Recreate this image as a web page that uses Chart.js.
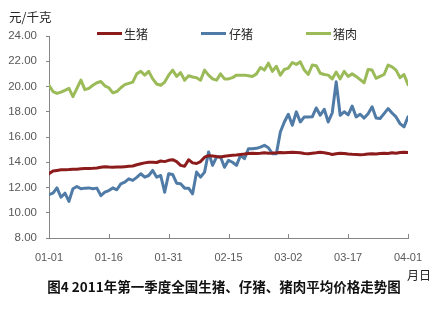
<!DOCTYPE html>
<html lang="zh">
<head>
    <meta charset="UTF-8">
    <title>2011年第一季度全国生猪、仔猪、猪肉平均价格走势图</title>
    <style>
        body { margin: 0; background: #fff; font-family: "Liberation Sans", "Noto Sans CJK SC", sans-serif; }
        #wrap { position: relative; width: 440px; height: 310px; overflow: hidden; }
        #chartBox { position: absolute; left: 0; top: 0; width: 440px; height: 268px; }
        .txt { position: absolute; color: #262626; white-space: nowrap; font-family: "Noto Sans CJK SC", sans-serif; }
        .key { position: absolute; height: 3px; width: 25px; top: 32px; }
    </style>
</head>
<body>
<div id="wrap">
    <div id="chartBox"><canvas id="lineChart"></canvas></div>
    <div class="txt" style="left:9px; top:7px; font-size:12.5px;">元/千克</div>
    <div class="key" style="left:97px; background:#8c1c1c;"></div>
    <div class="txt" style="left:124px; top:25px; font-size:12px;">生猪</div>
    <div class="key" style="left:201px; background:#4f7ba6;"></div>
    <div class="txt" style="left:229px; top:25px; font-size:12px;">仔猪</div>
    <div class="key" style="left:306px; background:#9bbb59;"></div>
    <div class="txt" style="left:333px; top:25px; font-size:12px;">猪肉</div>
    <div class="txt" style="left:407px; top:266px; font-size:12px;">月日</div>
    <div class="txt" style="left:0; width:448px; text-align:center; top:276px; font-size:13.5px; font-weight:bold; color:#111;">图4 2011年第一季度全国生猪、仔猪、猪肉平均价格走势图</div>
</div>
<script src="https://cdn.jsdelivr.net/npm/chart.js"></script>
<script>
    // daily prices, 01-01 .. 04-01 (yuan / kg)
    const tickLabels = ['01-01', '01-16', '01-31', '02-15', '03-02', '03-17', '04-01'];

    const hog = [
        13.1, 13.3, 13.35, 13.4, 13.4, 13.42, 13.45, 13.45, 13.48, 13.5,
        13.5, 13.52, 13.55, 13.6, 13.65, 13.62, 13.6, 13.62, 13.62, 13.65,
        13.68, 13.7, 13.8, 13.88, 13.95, 14.0, 14.0, 13.98, 14.1, 14.05,
        14.15, 14.2, 14.05, 13.75, 13.68, 14.2, 13.95, 13.9, 14.05, 14.4,
        14.52, 14.5, 14.45, 14.42, 14.48, 14.52, 14.55, 14.58, 14.62, 14.65,
        14.7, 14.72, 14.7, 14.72, 14.75, 14.72, 14.73, 14.75, 14.78, 14.76,
        14.78, 14.8, 14.78, 14.75, 14.7, 14.68, 14.72, 14.75, 14.8, 14.75,
        14.7, 14.62, 14.68, 14.72, 14.7, 14.65, 14.63, 14.62, 14.6, 14.62,
        14.65, 14.68, 14.66, 14.7, 14.72, 14.7, 14.75, 14.72, 14.78, 14.8,
        14.78
    ];

    const piglet = [
        11.44, 11.55, 11.97, 11.23, 11.55, 10.9, 11.9, 12.08, 11.9, 11.95,
        11.97, 11.9, 11.95, 11.36, 11.63, 11.76, 11.97, 11.82, 12.29, 12.42,
        12.69, 12.56, 12.8, 13.09, 12.82, 12.95, 13.35, 12.82, 12.95, 11.63,
        13.09, 13.03, 12.34, 12.29, 11.95, 11.95, 11.5, 13.22, 12.82, 13.22,
        14.81, 13.75, 14.41, 14.41, 13.6, 14.15, 14.0, 13.75, 14.54, 14.28,
        15.07, 15.07, 15.1, 15.2, 15.34, 15.15, 14.68, 14.68, 16.4, 17.19,
        17.8, 16.93, 17.99, 17.19, 17.59, 17.59, 17.6, 18.3, 17.72, 18.2,
        17.19, 17.9, 20.37, 17.72, 18.0, 17.75, 18.45, 17.59, 17.8, 17.5,
        17.85, 18.4, 17.5, 17.46, 17.85, 18.25, 17.9, 17.59, 17.06, 16.8,
        17.6
    ];

    const pork = [
        20.1, 19.6, 19.45, 19.55, 19.7, 19.85, 19.2, 19.85, 20.5, 19.75,
        19.85, 20.1, 20.3, 20.4, 20.05, 19.9, 19.5, 19.6, 19.9, 20.15,
        20.25, 20.35, 21.0, 21.2, 20.9, 21.2, 20.6, 20.2, 20.1, 20.35,
        20.9, 21.3, 20.8, 21.1, 20.5, 20.85, 20.75, 20.7, 20.5, 21.3,
        20.9, 20.6, 20.5, 21.0, 20.6, 20.6, 20.7, 20.9, 20.9, 20.9,
        20.85, 20.8, 21.0, 21.5, 21.3, 21.85, 21.2, 21.6, 20.9, 21.35,
        21.45, 21.9, 21.75, 21.95, 21.3, 20.95, 21.7, 21.65, 21.05, 20.95,
        20.9, 20.6, 21.15, 20.6, 21.2, 20.8, 21.0, 20.8, 20.55, 20.3,
        21.35, 21.3, 20.65, 20.8, 20.95, 21.7, 21.55, 21.3, 20.7, 20.95,
        20.15
    ];

    const days = pork.map((_, i) => i);
    const axisGrey = '#868686';

    // Excel style tick marks pointing up into the plot
    const insideTicks = {
        id: 'insideTicks',
        afterDraw(chart) {
            const { ctx, chartArea } = chart;
            const x = chart.scales.x;
            ctx.save();
            ctx.strokeStyle = axisGrey;
            ctx.lineWidth = 1;
            x.ticks.forEach(t => {
                const px = Math.round(x.getPixelForValue(t.value)) + 0.5;
                ctx.beginPath();
                ctx.moveTo(px, chartArea.bottom);
                ctx.lineTo(px, chartArea.bottom - 4);
                ctx.stroke();
            });
            ctx.restore();
        }
    };

    new Chart(document.getElementById('lineChart'), {
        type: 'line',
        data: {
            labels: days,
            datasets: [
                { label: '生猪', data: hog, borderColor: '#8c1c1c' },
                { label: '仔猪', data: piglet, borderColor: '#4f7ba6' },
                { label: '猪肉', data: pork, borderColor: '#9bbb59' }
            ]
        },
        options: {
            responsive: true,
            maintainAspectRatio: false,
            animation: false,
            layout: { padding: { top: 36, right: 32, left: 0, bottom: 0 } },
            elements: {
                point: { radius: 0 },
                line: { borderWidth: 3, tension: 0, borderCapStyle: 'round', borderJoinStyle: 'round' }
            },
            plugins: {
                legend: { display: false },
                tooltip: { enabled: false }
            },
            scales: {
                x: {
                    type: 'linear',
                    min: 0,
                    max: 90,
                    grid: { display: false },
                    border: { display: true, color: axisGrey },
                    ticks: {
                        stepSize: 15,
                        padding: 5,
                        color: '#595959',
                        font: { size: 11, family: 'Liberation Sans' },
                        maxRotation: 0,
                        callback: v => tickLabels[v / 15]
                    },
                    afterFit: s => { s.height = 30; }
                },
                y: {
                    min: 8,
                    max: 24,
                    grid: { drawOnChartArea: false, tickLength: 3, color: axisGrey },
                    border: { color: axisGrey },
                    ticks: {
                        stepSize: 2,
                        padding: 9,
                        color: '#595959',
                        font: { size: 11.5, family: 'Liberation Sans' },
                        callback: v => v.toFixed(2)
                    },
                    afterFit: s => { s.width = 49; }
                }
            }
        },
        plugins: [insideTicks]
    });
</script>
</body>
</html>
